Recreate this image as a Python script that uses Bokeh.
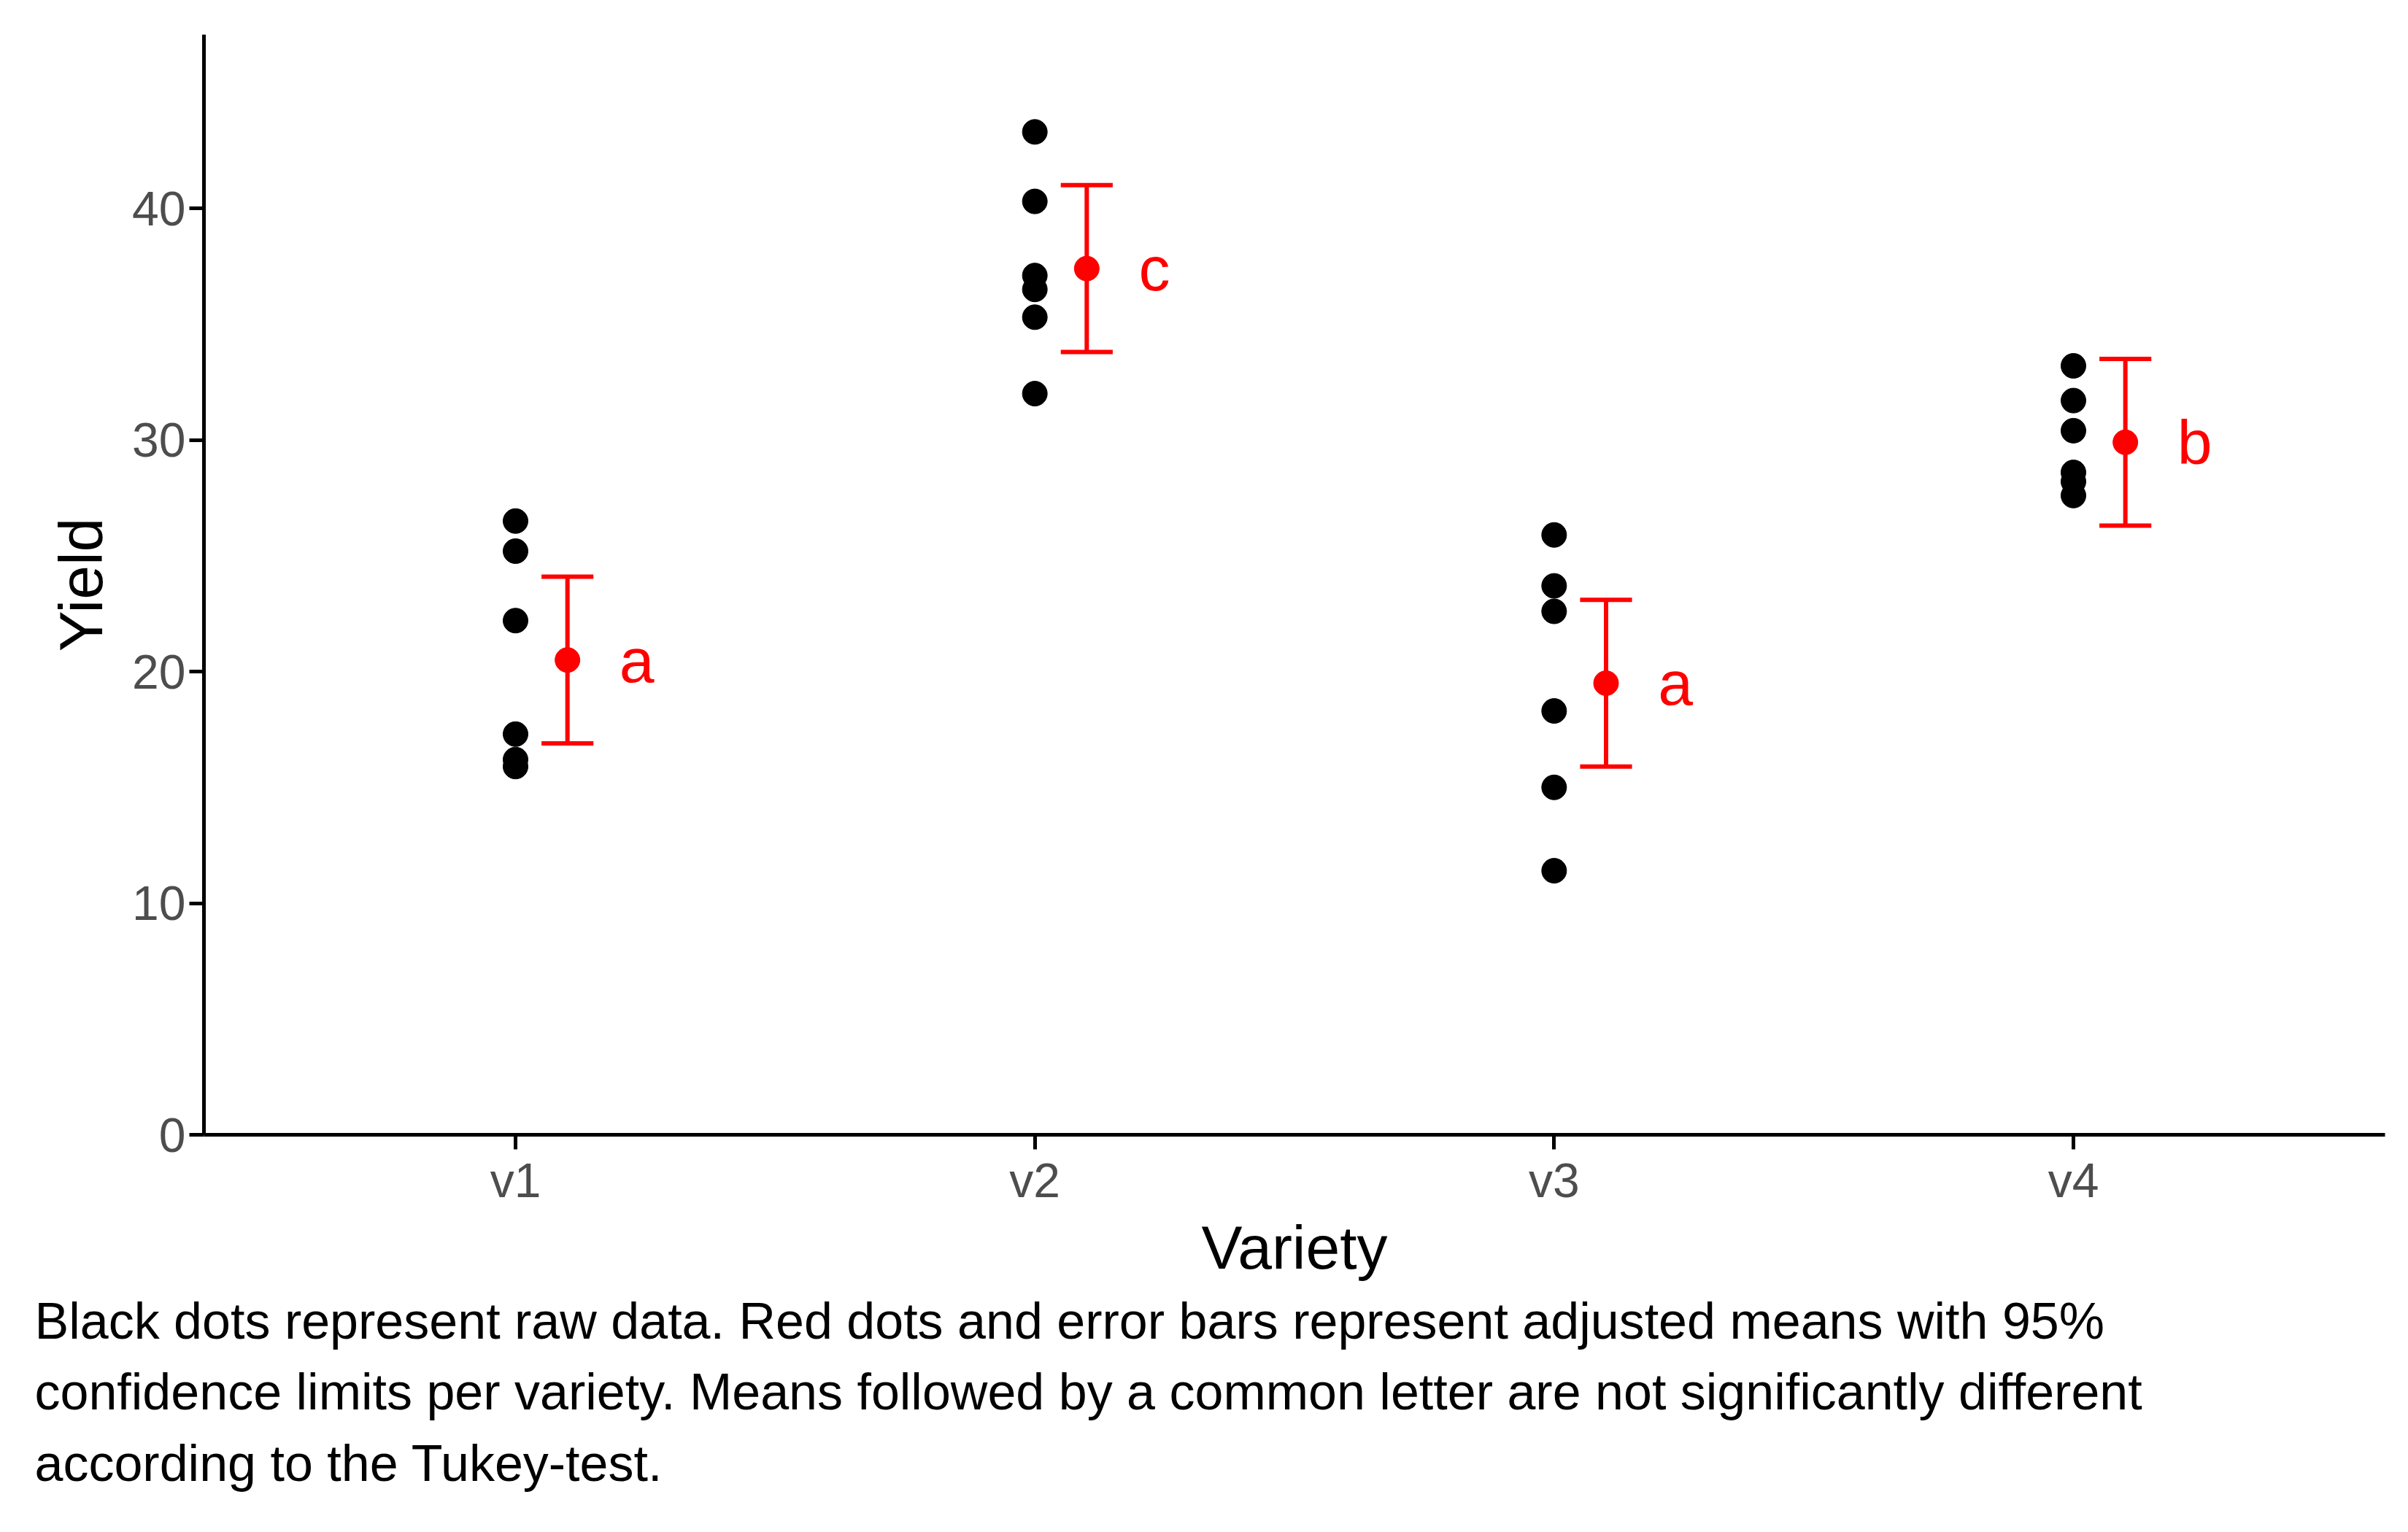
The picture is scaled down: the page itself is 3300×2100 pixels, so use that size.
from bokeh.plotting import figure
from bokeh.models import Range1d, FixedTicker, Title
from bokeh.core.properties import value
from bokeh.embed import file_html
from bokeh.resources import INLINE

varieties = ["v1", "v2", "v3", "v4"]
raw_yield = {
    "v1": [26.5, 25.2, 22.2, 17.3, 16.2, 15.9],
    "v2": [43.3, 40.3, 37.1, 36.5, 35.3, 32.0],
    "v3": [25.9, 23.7, 22.6, 18.3, 15.0, 11.4],
    "v4": [33.2, 31.7, 30.4, 28.6, 28.2, 27.6],
}
means = [20.5, 37.4, 19.5, 29.9]
lower = [16.9, 33.8, 15.9, 26.3]
upper = [24.1, 41.0, 23.1, 33.5]
letters = ["a", "c", "a", "b"]
y_ticks = [0, 10, 20, 30, 40]

FONT = "Liberation Sans"

p = figure(frame_width=2989, frame_height=1508, output_backend="svg", toolbar_location=None,
           x_range=Range1d(0.4, 4.6), y_range=Range1d(0, 47.5),
           min_border_left=279, min_border_top=47, min_border_right=16, min_border_bottom=10)

# raw data
xs, ys = [], []
for i, v in enumerate(varieties):
    for y in raw_yield[v]:
        xs.append(i + 1)
        ys.append(y)
p.scatter(xs, ys, size=34, color="black")

# adjusted means with CIs
mx = [i + 1.1 for i in range(4)]
p.segment(mx, lower, mx, upper, line_color="red", line_width=6)
cap = 0.05
p.segment([x - cap for x in mx], lower, [x + cap for x in mx], lower, line_color="red", line_width=6)
p.segment([x - cap for x in mx], upper, [x + cap for x in mx], upper, line_color="red", line_width=6)
p.scatter(mx, means, size=34, color="red")
p.text([x + 0.1 for x in mx], means, text=letters, text_color="red",
       text_font=value(FONT), text_font_size="86px", text_baseline="middle", text_align="left")

# axes
p.xaxis.ticker = FixedTicker(ticks=[1, 2, 3, 4])
p.xaxis.major_label_overrides = {i + 1: v for i, v in enumerate(varieties)}
p.yaxis.ticker = FixedTicker(ticks=y_ticks)
for ax in (p.xaxis, p.yaxis):
    ax.axis_line_width = 5
    ax.major_tick_line_width = 5
    ax.major_tick_out = 20
    ax.major_tick_in = 0
    ax.minor_tick_line_color = None
    ax.major_label_text_font = FONT
    ax.major_label_text_font_size = "66px"
    ax.major_label_text_color = "#4d4d4d"
    ax.axis_label_text_font = FONT
    ax.axis_label_text_font_size = "84px"
    ax.axis_label_text_font_style = "normal"
    ax.axis_label_text_color = "black"
p.xaxis.axis_label = "Variety"
p.yaxis.axis_label = "Yield"
p.yaxis.axis_label_standoff = 20
p.yaxis.major_label_orientation = "horizontal"
p.xgrid.grid_line_color = None
p.ygrid.grid_line_color = None
p.outline_line_color = None

caption = ("Black dots represent raw data. Red dots and error bars represent adjusted means with 95%\n"
           "confidence limits per variety. Means followed by a common letter are not significantly different\n"
           "according to the Tukey-test.")
p.add_layout(Title(text=caption, text_font=FONT, text_font_size="70px", text_font_style="normal",
                   text_color="black", text_line_height=1.25,
                   align="left", offset=-232, standoff=20), "below")

open("out.html", "w").write(file_html(p, INLINE))
